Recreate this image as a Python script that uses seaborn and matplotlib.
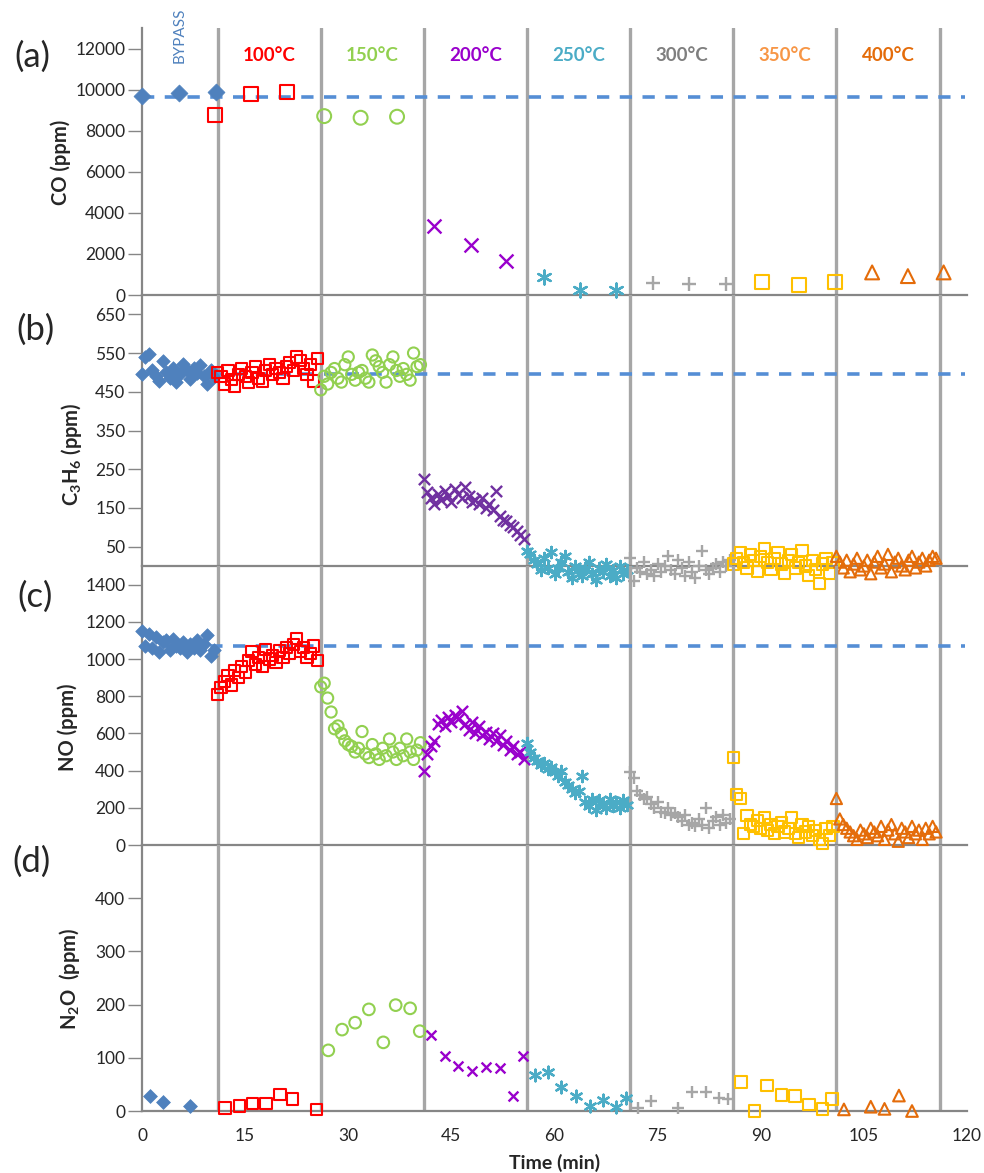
import numpy as np
import matplotlib.pyplot as plt
import seaborn as sns

# ---- data ----------------------------------------------------------------
bounds = [11, 26, 41, 56, 71, 86, 101, 116]
temps = ['100°C', '150°C', '200°C', '250°C', '300°C', '350°C', '400°C']
series = ['bypass', 't100', 't150', 't200', 't250', 't300', 't350', 't400']

# (a) CO, sparse sampling
co_x = {
    'bypass': [0, 5.4, 10.8], 't100': [10.6, 15.9, 21.1], 't150': [26.5, 31.8, 37.1],
    't200': [42.5, 47.8, 53.0], 't250': [58.4, 63.7, 69.0], 't300': [74.3, 79.6, 84.9],
    't350': [90.2, 95.5, 100.8], 't400': [106.2, 111.4, 116.6],
}
co_y = {
    'bypass': [9680, 9850, 9900], 't100': [8770, 9800, 9870], 't150': [8710, 8630, 8680],
    't200': [3380, 2440, 1670], 't250': [870, 250, 250], 't300': [570, 520, 520],
    't350': [640, 490, 640], 't400': [1100, 920, 1100],
}
co_feed = 9650

# (b) C3H6 and (c) NO, dense sampling every 0.5 min
t_step = 0.5
seg_start = {'bypass': 0, 't100': 11, 't150': 26, 't200': 41, 't250': 56,
             't300': 71, 't350': 86, 't400': 101}

hc_bypass = [495, 540, 548, 505, 490, 478, 530, 500, 485, 512, 475, 495, 522, 505, 482, 512, 498, 520, 490, 470, 505, 488]
hc_100 = [500, 490, 470, 505, 482, 465, 495, 510, 490, 475, 500, 515, 485, 478, 505, 520, 495, 510, 500, 485, 515, 525, 505, 540, 530, 510, 495, 520, 478, 535]
hc_150 = [455, 490, 470, 500, 510, 485, 475, 520, 540, 495, 480, 500, 505, 485, 475, 545, 530, 515, 500, 475, 520, 540, 505, 490, 510, 495, 480, 550, 515, 520]
hc_200 = [225, 190, 175, 160, 185, 170, 195, 180, 165, 200, 185, 175, 205, 180, 165, 170, 160, 175, 150, 160, 145, 195, 130, 120, 115, 105, 100, 90, 80, 70]
hc_250 = [40, 30, 15, 5, -10, 20, -5, 35, -20, -5, 10, 25, -15, -30, 0, -10, -25, -5, 10, -20, -35, -5, -15, 5, -25, -10, -30, 0, -20, -10]
hc_300 = [20, -40, -5, -15, 10, -20, -10, -25, 5, -15, 0, 25, -10, -20, 15, -5, -25, 10, -15, -30, 0, 40, -10, -20, -5, 5, -15, 10, 0, 15]
hc_350 = [5, 20, 35, 10, -5, 30, 15, -15, 25, 45, 10, -10, 20, 35, 5, -20, 15, 30, -5, 10, 40, 0, -25, 15, -10, -45, 5, 20, -20, 10]
hc_400 = [25, 10, -5, 15, -15, 5, 20, -10, 0, 15, -20, 10, 25, -5, 5, 30, -15, 10, 20, 0, -10, 15, 25, -5, 10, 20, 0, 15, 25, 20]
hc_feed = 497

no_bypass = [1150, 1070, 1135, 1060, 1120, 1040, 1090, 1100, 1050, 1110, 1070, 1060, 1090, 1040, 1080, 1060, 1100, 1050, 1080, 1130, 1015, 1050]
no_100 = [810, 845, 880, 910, 860, 940, 900, 960, 930, 990, 1040, 970, 1010, 960, 1050, 1000, 1020, 980, 1045, 1010, 1060, 1030, 1080, 1110, 1040, 1060, 1010, 1030, 1070, 990]
no_150 = [850, 870, 790, 715, 625, 640, 600, 560, 540, 530, 500, 520, 610, 490, 470, 540, 490, 460, 520, 480, 570, 500, 460, 520, 480, 570, 500, 460, 510, 550]
no_200 = [400, 490, 530, 560, 650, 670, 640, 690, 660, 700, 680, 720, 650, 620, 660, 600, 640, 590, 610, 570, 600, 560, 590, 540, 560, 510, 530, 490, 500, 460]
no_250 = [550, 500, 470, 450, 430, 440, 410, 420, 390, 370, 400, 340, 320, 300, 280, 290, 370, 230, 210, 250, 190, 240, 220, 200, 250, 210, 230, 200, 240, 215]
no_300 = [390, 360, 290, 270, 250, 260, 220, 200, 230, 180, 170, 200, 160, 170, 150, 130, 160, 110, 120, 100, 140, 110, 200, 90, 130, 150, 110, 160, 120, 140]
no_350 = [470, 270, 250, 60, 160, 110, 100, 130, 90, 150, 80, 110, 60, 100, 120, 70, 90, 150, 60, 40, 110, 70, 100, 50, 80, 30, 10, 90, 50, 100]
no_400 = [250, 140, 110, 90, 70, 50, 30, 80, 60, 40, 90, 70, 50, 100, 30, 80, 110, 60, 20, 90, 70, 40, 100, 60, 80, 30, 90, 60, 100, 70]
no_feed = 1070

hc_y = dict(zip(series, [hc_bypass, hc_100, hc_150, hc_200, hc_250, hc_300, hc_350, hc_400]))
no_y = dict(zip(series, [no_bypass, no_100, no_150, no_200, no_250, no_300, no_350, no_400]))

# (d) N2O, sparse sampling
n2o_x = {
    'bypass': [1.2, 3.1, 7.0],
    't100': [12.1, 14.2, 16.1, 18.0, 20.1, 21.9, 25.4],
    't150': [27.1, 29.1, 31.0, 33.0, 35.1, 36.9, 39.0, 40.4],
    't200': [42.1, 44.1, 46.0, 48.0, 50.0, 52.0, 53.9, 55.4],
    't250': [57.2, 59.1, 61.0, 63.1, 65.1, 67.0, 68.9, 70.4],
    't300': [72.2, 74.1, 78.0, 80.0, 82.0, 83.9, 85.3],
    't350': [87.1, 89.1, 90.9, 93.0, 95.0, 97.0, 99.0, 100.4],
    't400': [102.1, 106.0, 108.0, 110.1, 112.0],
}
n2o_y = {
    'bypass': [28, 17, 9],
    't100': [6, 9, 14, 14, 31, 22, 3],
    't150': [114, 153, 166, 191, 129, 199, 193, 150],
    't200': [143, 104, 84, 75, 82, 80, 28, 103],
    't250': [67, 73, 46, 28, 9, 21, 8, 24],
    't300': [6, 18, 6, 36, 36, 25, 23],
    't350': [54, 0, 48, 30, 28, 12, 4, 22],
    't400': [3, 8, 4, 29, 0],
}

# ---- styles --------------------------------------------------------------
style = {
    'bypass': ('#4F81BD', 'D', 'fill'),
    't100': ('#FF0000', 's', 'open'),
    't150': ('#92D050', 'o', 'open'),
    't200': ('#9900CC', 'x', 'line'),
    't250': ('#4BACC6', (6, 2, 0), 'line'),
    't300': ('#A6A6A6', '+', 'line'),
    't350': ('#FFC000', 's', 'open'),
    't400': ('#E46C0A', '^', 'open'),
}
label_colors = ['#FF0000', '#92D050', '#9900CC', '#4BACC6', '#7F7F7F', '#F79646', '#E46C0A']

sns.set_theme(style='white')
plt.rcParams['font.family'] = ['Lato', 'DejaVu Sans']
plt.rcParams['mathtext.default'] = 'regular'

W, H = 984, 1173
fig = plt.figure(figsize=(W / 100, H / 100), dpi=100)

# panel pixel extents (top, bottom)
extents = [(28, 295), (295, 566), (566, 845), (845, 1111)]
left_px, right_px = 142, 967
axes = []
for top, bot in extents:
    ax = fig.add_axes([left_px / W, 1 - bot / H, (right_px - left_px) / W, (bot - top) / H])
    axes.append(ax)
ax_a, ax_b, ax_c, ax_d = axes


def draw(ax, x, y, key, size, color=None):
    col, mk, kind = style[key]
    col = color or col
    kw = dict(x=x, y=y, ax=ax, marker=mk, s=size, clip_on=False, zorder=4, legend=False)
    if kind == 'open':
        kw.update(facecolor='none', edgecolor=col, linewidth=1.5)
    elif kind == 'line':
        kw.update(color=col, linewidth=1.7)
    else:
        kw.update(color=col, edgecolor=col, linewidth=0.5)
    sns.scatterplot(**kw)


for key in series:
    draw(ax_a, co_x[key], co_y[key], key, 100 if key != 'bypass' else 75)
    n = len(hc_y[key])
    t = seg_start[key] + t_step * np.arange(n)
    draw(ax_b, t, hc_y[key], key, 65 if key != 'bypass' else 48,
         color='#7030A0' if key == 't200' else None)
    draw(ax_c, t, no_y[key], key, 65 if key != 'bypass' else 48)
    draw(ax_d, n2o_x[key], n2o_y[key], key, 70 if key not in ('bypass', 't200') else 50)

# feed (bypass) reference lines
for ax, feed in [(ax_a, co_feed), (ax_b, hc_feed), (ax_c, no_feed)]:
    ax.plot([0, 119.7], [feed, feed], color='#558ED5', lw=2.6, ls=(0, (3.4, 2.9)), zorder=2)

limits = [(0, 13000), (0, 700), (0, 1500), (0, 500)]
yticks = [np.arange(0, 12001, 2000), np.arange(50, 651, 100),
          np.arange(0, 1401, 200), np.arange(0, 401, 100)]
for i, ax in enumerate(axes):
    for b in bounds:
        ax.axvline(b, color='#A6A6A6', lw=2.4, zorder=1)
    ax.set_xlim(0, 120)
    ax.set_ylim(*limits[i])
    ax.set_xticks(np.arange(0, 121, 15))
    ax.set_yticks(yticks[i])
    for s in ['top', 'right']:
        ax.spines[s].set_visible(False)
    for s in ['left', 'bottom']:
        ax.spines[s].set_color('#868686')
        ax.spines[s].set_linewidth(1.6)
        ax.spines[s].set_zorder(3)
    ax.tick_params(axis='x', direction='inout', length=8.5, width=1, color='#404040',
                   labelbottom=(i == 3), labelsize=12.5, labelcolor='#262626', pad=8)
    ax.tick_params(axis='y', direction='out', length=10, width=1, color='#868686',
                   labelsize=12.5, labelcolor='#262626', pad=2, left=True)
    ax.set_xlabel('')
    ax.set_ylabel('')
    ax.patch.set_alpha(0)

# temperature labels
mids = [(bounds[i] + bounds[i + 1]) / 2 for i in range(len(temps))]
for m, lab, c in zip(mids, temps, label_colors):
    ax_a.text(m, 11650, lab, color=c, ha='center', va='center', fontsize=13.5, fontweight='bold')
ax_a.text(5.5, 11300, 'BYPASS', color='#4F81BD', rotation=90, ha='center', va='bottom',
          fontsize=11, clip_on=False)

# panel letters and axis titles
for lab, (px, py) in zip(['(a)', '(b)', '(c)', '(d)'], [(32, 57), (35, 330), (35, 597), (32, 862)]):
    fig.text(px / W, 1 - py / H, lab, ha='center', va='center', fontsize=25)
for lab, (px, py) in zip(['CO (ppm)', 'C$_3$H$_6$ (ppm)', 'NO (ppm)', 'N$_2$O  (ppm)'],
                         [(61, 162), (71, 454), (68, 727), (70, 979)]):
    fig.text(px / W, 1 - py / H, lab, rotation=90, ha='center', va='center',
             fontsize=14.5, fontweight='bold')
fig.text(555 / W, 1 - 1163 / H, 'Time (min)', ha='center', va='center', fontsize=14,
         fontweight='bold')

fig.savefig('out.png', dpi=100)
